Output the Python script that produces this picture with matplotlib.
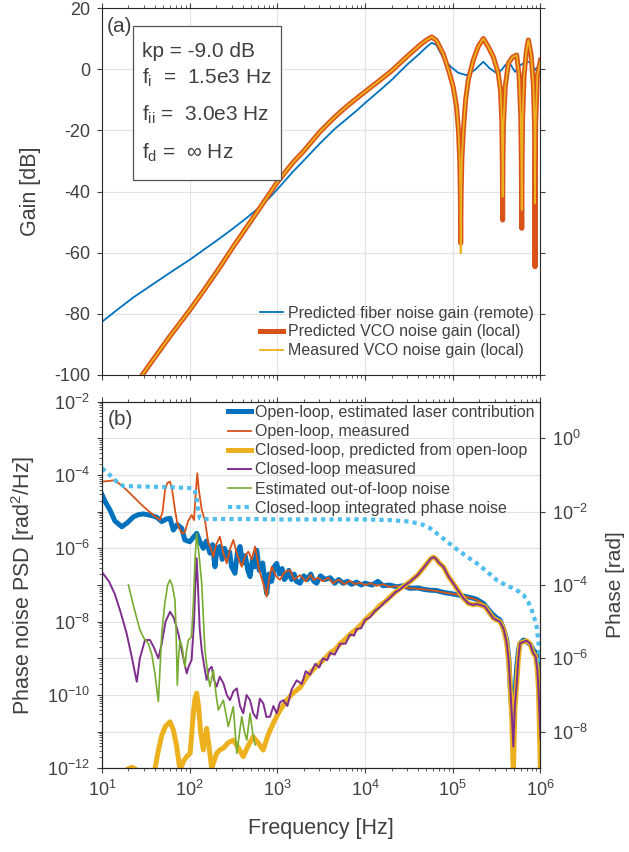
import numpy as np
import matplotlib
matplotlib.use('Agg')
import matplotlib.pyplot as plt
from matplotlib.patches import Rectangle
from matplotlib.ticker import LogLocator, FixedLocator, NullFormatter, NullLocator, FuncFormatter

plt.rcParams['font.family'] = ['Liberation Sans', 'DejaVu Sans']
plt.rcParams['mathtext.fontset'] = 'custom'
plt.rcParams['mathtext.rm'] = 'Liberation Sans'
plt.rcParams['mathtext.it'] = 'Liberation Sans:italic'
plt.rcParams['mathtext.bf'] = 'Liberation Sans:bold'
plt.rcParams['axes.unicode_minus'] = False

TXT = '#404040'
for k in ['text.color', 'axes.labelcolor', 'xtick.color', 'ytick.color']:
    plt.rcParams[k] = TXT

# matlab colours
BLUE = '#0072BD'
ORANGE = '#D95319'
YELLOW = '#EDB120'
PURPLE = '#7E2F8E'
GREEN = '#77AC30'
LBLUE = '#4DBEEE'

# ---- panel (a): gains in dB ----
fiber_freq = [10, 15, 22.8, 35, 50, 70, 100, 150, 220, 314, 450, 632, 800, 980, 1500, 2000, 3060,
              4500, 6000, 8000, 10000, 14800, 20000, 30000, 42000, 50000, 57500, 65000, 78000,
              95000, 115000, 143000, 178000, 200000, 223000, 260000, 317000, 360000, 396000,
              447000, 512000, 589000, 660000, 760000, 866000, 1000000]
fiber_gain = [-82.6, -78.6, -74.6, -71.0, -68.0, -65.2, -62.3, -58.7, -55.3, -52.0, -48.5, -45.0,
              -42.2, -39.5, -33.5, -29.8, -24.2, -19.5, -16.5, -13.5, -11.0, -6.8, -3.5, 1.5, 5.2,
              7.3, 8.7, 8.0, 3.6, 0.85, -1.1, -1.9, -0.2, 1.2, 2.5, 0.5, -1.3, -0.2, 1.4, 2.0, -0.8,
              1.4, 2.2, 2.5, -0.2, 2.0]

vco_freq = [28, 40, 60, 100, 150, 220, 314, 450, 632, 980, 1500, 2000, 3060, 4500, 6000, 8000,
            10000, 14800, 20000, 30000, 42300, 50000, 57500, 65000, 78000, 90000, 101000, 110000,
            116000, 120000, 121800, 123000, 124500, 127000, 132000, 140000, 150000, 171000,
            195000, 223000, 255000, 290000, 330000, 350000, 362000, 367000, 370000, 373000,
            378000, 396000, 430000, 480000, 535000, 570000, 595000, 605000, 611000, 617000,
            625000, 650000, 690000, 727000, 780000, 830000, 855000, 862000, 866000, 870000,
            880000, 920000, 1000000]
vco_gain_pred = [-100.5, -94.2, -87.2, -78.8, -71.7, -64.8, -58.0, -51.5, -45.3, -37.2, -30.5,
                 -26.7, -20.4, -15.6, -12.4, -9.5, -7.3, -3.5, -0.5, 4.2, 8.0, 9.6, 10.6, 9.5,
                 5.0, -0.5, -5.7, -12.0, -19.9, -30.0, -40.0, -56.9, -40.0, -29.0, -19.9, -10.0,
                 -3.5, 3.0, 7.5, 10.1, 7.3, 4.1, -1.3, -7.0, -17.0, -30.0, -49.3, -30.0, -18.0,
                 -5.7, 2.0, 4.0, 4.7, -2.0, -15.0, -30.0, -52.0, -30.0, -16.0, -2.0, 6.0, 9.6,
                 5.0, -5.0, -18.0, -35.0, -64.6, -35.0, -18.0, -2.0, 3.0]
vco_gain_meas = [-100.5, -94.2, -87.2, -78.8, -71.7, -64.8, -58.0, -51.5, -45.3, -37.2, -30.5,
                 -26.7, -20.4, -15.6, -12.4, -9.5, -7.3, -3.5, -0.5, 4.2, 8.0, 9.6, 10.6, 9.5,
                 5.0, -0.5, -5.7, -12.0, -19.9, -30.0, -40.0, -60.2, -40.0, -29.0, -19.9, -10.0,
                 -3.5, 3.0, 7.5, 10.1, 7.3, 4.1, -1.3, -7.0, -17.0, -30.0, -41.7, -30.0, -18.0,
                 -5.7, 2.0, 4.0, 4.7, -2.0, -15.0, -30.0, -46.0, -30.0, -16.0, -2.0, 6.0, 9.6,
                 5.0, -5.0, -18.0, -35.0, -43.9, -35.0, -18.0, -2.0, 3.0]

# ---- panel (b): (frequency Hz, log10 value) ----
ol_est = [(10, -4.54), (11, -4.75), (12.3, -4.95), (14, -5.25), (16.8, -5.41), (19.5, -5.3),
          (22.8, -5.14), (26, -5.08), (29.6, -5.06), (36, -5.1), (42, -5.15), (48, -5.27),
          (54, -5.2), (59.6, -5.18), (65, -5.5), (72, -5.35), (81, -5.45), (88, -5.77),
          (100, -5.82), (110, -5.7), (120, -5.59), (130, -5.8), (143, -6.0), (155, -5.8),
          (170, -6.13), (182, -5.9), (194, -6.5), (205, -6.0), (221, -5.95), (235, -6.3),
          (250, -6.0), (264, -6.23), (285, -6.1), (300, -6.5), (328, -6.68), (350, -6.1),
          (375, -5.95), (400, -6.4), (430, -6.2), (460, -6.6), (487, -6.77), (520, -6.3),
          (550, -6.5), (581, -6.05), (620, -6.6), (680, -6.4), (720, -6.9), (755, -7.23),
          (800, -6.7), (860, -6.9), (920, -6.5), (982, -6.41), (1050, -6.7), (1130, -6.55),
          (1200, -6.85), (1277, -6.77), (1350, -6.6), (1450, -6.85), (1550, -6.7), (1650, -6.9),
          (1811, -6.95), (2000, -6.75), (2200, -6.85), (2400, -6.7), (2600, -6.9), (2805, -6.95),
          (3100, -6.75), (3500, -6.85), (4000, -6.8), (4500, -6.95), (5000, -6.85), (5600, -6.95),
          (6300, -6.9), (7000, -6.98), (8000, -6.92), (9000, -7.0), (10000, -6.95), (12000, -7.0),
          (14000, -6.9), (16000, -7.02), (19000, -7.0), (23000, -7.05), (27000, -7.02),
          (32500, -7.09), (40000, -7.08), (47000, -7.12), (55000, -7.14), (65000, -7.15),
          (78000, -7.2), (93000, -7.23), (115000, -7.27), (144000, -7.32), (170000, -7.36),
          (187000, -7.39), (205000, -7.45), (223000, -7.5), (245000, -7.62), (277000, -7.77),
          (310000, -7.88), (345000, -7.95), (380000, -8.2), (412000, -8.5), (435000, -9.0),
          (449000, -9.68), (470000, -10.4), (490000, -11.0), (510000, -10.0), (536000, -9.23),
          (560000, -8.8), (584000, -8.59), (640000, -8.5), (696000, -8.55), (760000, -8.62),
          (828000, -8.77), (880000, -8.85), (906000, -8.86), (940000, -9.3), (965000, -10.0),
          (1000000, -11.0)]

ol_meas = [(10, -4.18), (12, -4.16), (14, -4.14), (16, -4.25), (19.1, -4.41), (23, -4.6),
           (27.1, -4.77), (32, -4.93), (38.5, -5.09), (45.8, -5.23), (49, -5.0), (52.3, -4.41),
           (55.5, -4.22), (59.6, -4.18), (63, -4.4), (67.9, -4.95), (72, -5.3), (77.5, -5.5),
           (83, -5.6), (88.3, -5.55), (96, -5.25), (105.4, -5.09), (112, -5.23), (117, -4.5),
           (122, -3.95), (127, -4.4), (137, -4.95), (149, -5.23), (163, -5.86), (175, -6.0),
           (186, -6.23), (200, -5.9), (221, -5.68), (240, -6.1), (264, -6.41), (290, -6.0),
           (314, -5.77), (350, -6.2), (392, -6.5), (430, -6.2), (466, -6.09), (510, -6.3),
           (556, -5.95), (620, -6.6), (690, -6.95), (755, -7.32), (805, -6.8), (861, -6.5),
           (960, -6.75), (1071, -6.86), (1200, -6.65), (1393, -6.59), (1550, -6.85), (1811, -6.73),
           (2100, -6.9), (2400, -6.72), (2570, -6.86), (2900, -6.8), (3300, -6.9), (3800, -6.8),
           (4300, -6.95), (5000, -6.85), (5800, -6.98), (6700, -6.88), (7600, -6.98),
           (8700, -6.93), (10000, -7.0), (11500, -6.95), (13500, -7.02), (16000, -6.98),
           (19000, -7.05), (23000, -7.03), (27000, -7.06), (32500, -7.09), (40000, -7.1),
           (47000, -7.12), (55000, -7.14), (65000, -7.16), (78000, -7.2), (93000, -7.23),
           (115000, -7.27), (144000, -7.32), (170000, -7.37), (187000, -7.4), (205000, -7.46),
           (223000, -7.52), (245000, -7.63), (277000, -7.78), (310000, -7.9), (345000, -7.97),
           (380000, -8.22), (412000, -8.52), (435000, -9.0), (449000, -9.7), (470000, -10.3),
           (490000, -10.8), (510000, -9.9), (536000, -9.25), (560000, -8.85), (584000, -8.62),
           (640000, -8.53), (696000, -8.57), (760000, -8.64), (828000, -8.79), (880000, -8.87),
           (906000, -8.9), (940000, -9.3), (965000, -10.0), (1000000, -10.8)]

cl_pred = [(10, -13.5), (14, -12.8), (17, -12.3), (19.5, -12.02), (22, -11.97), (25, -12.05),
           (28, -12.4), (33, -13.0), (37, -12.6), (40.2, -12.0), (44, -11.5), (48, -11.1),
           (53, -10.85), (59.6, -10.73), (65, -10.95), (71, -11.4), (77.5, -12.05), (85, -11.8),
           (92.3, -11.68), (101, -11.59), (106, -11.0), (110, -10.5), (115, -10.1), (120, -9.95),
           (126, -10.3), (133, -11.0), (143, -11.5), (156, -10.91), (166, -11.4), (178, -12.0),
           (190, -11.8), (203, -11.59), (220, -11.5), (242, -11.45), (275, -11.3), (314, -11.23),
           (360, -11.45), (408, -11.68), (460, -11.4), (529, -11.14), (600, -11.3), (689, -11.5),
           (780, -11.1), (896, -10.77), (1050, -10.45), (1277, -10.14), (1500, -9.95),
           (1811, -9.8), (2100, -9.55), (2355, -9.4), (2700, -9.25), (3000, -9.15), (3500, -9.0),
           (4000, -8.85), (4600, -8.75), (5200, -8.6), (6000, -8.47), (6700, -8.35), (8000, -8.2),
           (9000, -8.08), (10000, -7.95), (11400, -7.82), (13000, -7.7), (14800, -7.55),
           (17000, -7.45), (19200, -7.32), (22000, -7.2), (25000, -7.1), (28000, -7.02),
           (32500, -6.91), (40000, -6.72), (46000, -6.54), (52000, -6.38), (56000, -6.28),
           (60000, -6.24), (64000, -6.28), (70000, -6.4), (78000, -6.5), (90000, -6.78),
           (101000, -6.95), (115000, -7.15), (132000, -7.36), (150000, -7.5), (171000, -7.54),
           (187000, -7.52), (210000, -7.55), (233000, -7.59), (260000, -7.75), (290000, -7.91),
           (345000, -8.0), (380000, -8.2), (412000, -8.59), (435000, -9.1), (449000, -9.68),
           (470000, -10.6), (490000, -12.2), (510000, -10.4), (536000, -9.68), (560000, -9.0),
           (584000, -8.59), (640000, -8.55), (696000, -8.52), (760000, -8.6), (828000, -8.86),
           (880000, -8.95), (920000, -9.3), (950000, -9.9), (1000000, -12.2)]

cl_meas = [(10, -6.65), (12, -6.9), (14, -7.25), (16, -7.68), (19, -8.3), (22, -9.0), (24.9, -9.64),
           (27, -9.0), (30.9, -8.5), (35.2, -8.5), (39, -8.7), (43.9, -9.0), (48, -8.6), (53, -8.0),
           (59.6, -7.73), (66, -7.9), (74.2, -8.32), (83, -8.9), (92.4, -9.41), (98, -9.2),
           (105, -9.05), (112, -8.0), (116, -7.0), (120, -6.27), (124, -7.0), (130, -8.2),
           (137, -8.77), (146, -9.2), (156, -9.59), (166, -9.3), (178, -9.23), (190, -9.6),
           (203, -9.77), (220, -9.5), (242, -9.68), (265, -10.0), (288, -10.14), (315, -9.9),
           (344, -9.82), (375, -10.3), (408, -10.5), (445, -10.0), (487, -10.14), (530, -10.5),
           (581, -10.64), (630, -10.1), (690, -10.23), (750, -10.6), (824, -10.59), (900, -10.3),
           (982, -10.5), (1070, -10.2), (1167, -10.14), (1300, -10.3), (1450, -9.85),
           (1660, -9.6), (1900, -9.7), (2100, -9.35), (2355, -9.45), (2700, -9.15), (3000, -9.25),
           (3300, -9.0), (3700, -9.05), (4000, -8.85), (4500, -8.9), (5200, -8.6), (6000, -8.6),
           (6700, -8.35), (7500, -8.38), (8000, -8.2), (9000, -8.18), (10000, -7.95),
           (11400, -7.88), (13000, -7.7), (14800, -7.6), (17000, -7.45), (19200, -7.35),
           (22000, -7.2), (25000, -7.12), (28000, -7.02), (32500, -6.91), (40000, -6.72),
           (46000, -6.54), (52000, -6.38), (56000, -6.28), (60000, -6.24), (64000, -6.28),
           (70000, -6.4), (78000, -6.5), (90000, -6.78), (101000, -6.95), (115000, -7.15),
           (132000, -7.36), (150000, -7.5), (171000, -7.54), (187000, -7.52), (210000, -7.55),
           (233000, -7.59), (260000, -7.75), (290000, -7.91), (345000, -8.0), (380000, -8.2),
           (412000, -8.59), (435000, -9.1), (449000, -9.68), (470000, -10.5), (490000, -11.41),
           (510000, -10.3), (536000, -9.68), (560000, -9.0), (584000, -8.59), (640000, -8.55),
           (696000, -8.52), (760000, -8.6), (828000, -8.86), (880000, -8.95), (920000, -9.3),
           (950000, -9.9), (1000000, -11.2)]

out_of_loop = [(20, -7.0), (23, -7.6), (27.1, -8.23), (30, -8.45), (33.7, -8.59), (37, -8.9),
               (40, -9.4), (43.9, -10.18), (46, -9.2), (48, -8.32), (52, -7.5), (56, -7.0),
               (59.6, -6.86), (63, -7.0), (67.9, -7.41), (70, -8.3), (72.2, -9.73), (74.5, -9.0),
               (77.5, -8.5), (82, -8.7), (88.3, -9.23), (92, -8.8), (96.4, -8.5), (105, -8.41),
               (110, -7.5), (115, -6.3), (120, -5.59), (128, -6.2), (137, -6.95), (149, -8.77),
               (160, -9.4), (170, -9.77), (186, -9.32), (200, -10.0), (212, -10.41),
               (242, -10.14), (275, -10.86), (314, -10.32), (344, -11.59), (392, -10.59),
               (420, -11.0), (447, -11.23), (487, -10.5), (520, -11.0), (556, -11.36)]

# integrated phase, log10 of rad (right axis)
int_phase = [(10, -0.816), (12.3, -1.0), (14.7, -1.18), (17.5, -1.30), (25, -1.31), (40, -1.32),
             (60, -1.33), (90, -1.35), (110, -1.36), (115, -1.45), (120, -1.68), (125, -2.0),
             (131, -2.18), (140, -2.2), (200, -2.2), (500, -2.2), (1000, -2.21), (3060, -2.21),
             (10000, -2.21), (20000, -2.23), (32500, -2.27), (45000, -2.35), (55000, -2.45),
             (75000, -2.7), (101000, -2.95), (140000, -3.2), (188000, -3.41), (250000, -3.65),
             (316000, -3.86), (400000, -4.0), (490000, -4.09), (560000, -4.17), (637000, -4.27),
             (720000, -4.45), (794000, -4.68), (850000, -4.9), (905000, -5.14), (950000, -5.6),
             (986000, -6.23)]


def xy(pairs):
    f = np.array([p[0] for p in pairs], float)
    v = np.power(10.0, [p[1] for p in pairs])
    return f, v


def style_axes(ax):
    for s in ax.spines.values():
        s.set_color('#262626')
        s.set_linewidth(0.8)
    ax.tick_params(which='both', direction='out', labelsize=13, pad=5)
    ax.tick_params(which='major', length=3.5, width=0.8)
    ax.tick_params(which='minor', length=2.0, width=0.6)


fig = plt.figure(figsize=(6.29, 8.52), dpi=100)
ax1 = fig.add_axes([0.1622, 0.5599, 0.6971, 0.4304])
ax3 = fig.add_axes([0.1622, 0.0982, 0.6971, 0.4303])

# ---------- top panel ----------
ax1.plot(fiber_freq, fiber_gain, color=BLUE, lw=1.3, label='Predicted fiber noise gain (remote)')
ax1.plot(vco_freq, vco_gain_pred, color=ORANGE, lw=3.6, label='Predicted VCO noise gain (local)')
ax1.plot(vco_freq, vco_gain_meas, color=YELLOW, lw=1.3, label='Measured VCO noise gain (local)')
ax1.set_xscale('log')
ax1.set_xlim(10, 1e6)
ax1.set_ylim(-100, 20)
ax1.yaxis.set_major_locator(FixedLocator(range(-100, 21, 20)))
ax1.xaxis.set_major_locator(LogLocator(base=10, numticks=10))
ax1.xaxis.set_minor_locator(LogLocator(base=10, subs=np.arange(2, 10), numticks=30))
ax1.xaxis.set_minor_formatter(NullFormatter())
style_axes(ax1)
ax1.tick_params(which='both', top=True, right=True, labelbottom=False)
ax1.grid(True, which='major', color='#e3e3e3', lw=0.8)
ax1.set_axisbelow(True)
ax1.set_ylabel('Gain [dB]', fontsize=15.5)
ax1.yaxis.set_label_coords(-0.14, 0.5)
ax1.legend(loc='upper left', bbox_to_anchor=(0.3603, 0.1886), frameon=False, fontsize=11.5,
           handlelength=1.45, handletextpad=0.3, labelspacing=0.23, borderpad=0,
           borderaxespad=0)

ax1.add_patch(Rectangle((0.0714, 0.5318), 0.3361, 0.42, transform=ax1.transAxes,
                        fc='white', ec='#555555', lw=0.9, zorder=4))
box_lines = ['kp = -9.0 dB', 'f$_{\\mathrm{i}}$  =  1.5e3 Hz', 'f$_{\\mathrm{ii}}$ =  3.0e3 Hz',
             'f$_{\\mathrm{d}}$ =  \u221e Hz']
box_y = [0.8664, 0.7955, 0.6935, 0.591]
for s, y in zip(box_lines, box_y):
    ax1.text(0.0905, y, s, transform=ax1.transAxes, fontsize=15, va='baseline', ha='left',
             zorder=5)
ax1.text(0.0107, 0.95, '(a)', transform=ax1.transAxes, fontsize=15, va='center', ha='left')

# ---------- bottom panel ----------
f, v = xy(ol_est)
ax3.plot(f, v, color=BLUE, lw=3.6, label='Open-loop, estimated laser contribution')
f, v = xy(ol_meas)
ax3.plot(f, v, color=ORANGE, lw=1.3, label='Open-loop, measured')
f, v = xy(cl_pred)
ax3.plot(f, v, color=YELLOW, lw=3.6, label='Closed-loop, predicted from open-loop')
f, v = xy(cl_meas)
ax3.plot(f, v, color=PURPLE, lw=1.4, label='Closed-loop measured')
f, v = xy(out_of_loop)
ax3.plot(f, v, color=GREEN, lw=1.2, label='Estimated out-of-loop noise')
ax3.set_xscale('log')
ax3.set_yscale('log')
ax3.set_xlim(10, 1e6)
ax3.set_ylim(1e-12, 1e-2)

ax4 = ax3.twinx()
f, v = xy(int_phase)
ax4.plot(f, v, color=LBLUE, lw=3.0, ls=(0, (1, 1)), label='Closed-loop integrated phase noise')
ax4.set_yscale('log')
ax4.set_ylim(1e-9, 1e1)
ax4.set_xlim(10, 1e6)


def even_decade(val, pos):
    e = int(round(np.log10(val)))
    return '$\\mathdefault{10^{%d}}$' % e if e % 2 == 0 else ''


ax3.yaxis.set_major_locator(FixedLocator([10.0 ** e for e in range(-12, -1)]))
ax3.yaxis.set_major_formatter(FuncFormatter(even_decade))
ax3.yaxis.set_minor_locator(LogLocator(base=10, subs=np.arange(2, 10), numticks=40))
ax3.yaxis.set_minor_formatter(NullFormatter())
ax3.xaxis.set_major_locator(LogLocator(base=10, numticks=10))
ax3.xaxis.set_minor_locator(LogLocator(base=10, subs=np.arange(2, 10), numticks=30))
ax3.xaxis.set_minor_formatter(NullFormatter())
ax4.yaxis.set_major_locator(FixedLocator([1e-8, 1e-6, 1e-4, 1e-2, 1e0]))
ax4.yaxis.set_minor_locator(NullLocator())
style_axes(ax3)
style_axes(ax4)
ax3.tick_params(which='both', top=True)
ax3.grid(True, which='major', color='#e3e3e3', lw=0.8)
ax3.set_axisbelow(True)
ax3.set_ylabel('Phase noise PSD [rad$^2$/Hz]', fontsize=15.5)
ax3.yaxis.set_label_coords(-0.148, 0.5)
ax4.set_ylabel('Phase [rad]', fontsize=15)
ax4.yaxis.set_label_coords(1.15, 0.5)
ax3.set_xlabel('Frequency [Hz]', fontsize=15.5)
ax3.xaxis.set_label_coords(0.5, -0.135)
ax3.text(0.012, 0.952, '(b)', transform=ax3.transAxes, fontsize=15, va='center', ha='left')

h1, l1 = ax3.get_legend_handles_labels()
h2, l2 = ax4.get_legend_handles_labels()
ax4.legend(h1 + h2, l1 + l2, loc='upper left', bbox_to_anchor=(0.288, 0.991), frameon=False,
           fontsize=11.5, handlelength=1.45, handletextpad=0.25, labelspacing=0.26,
           borderpad=0, borderaxespad=0)

fig.savefig('out.png', dpi=100)
